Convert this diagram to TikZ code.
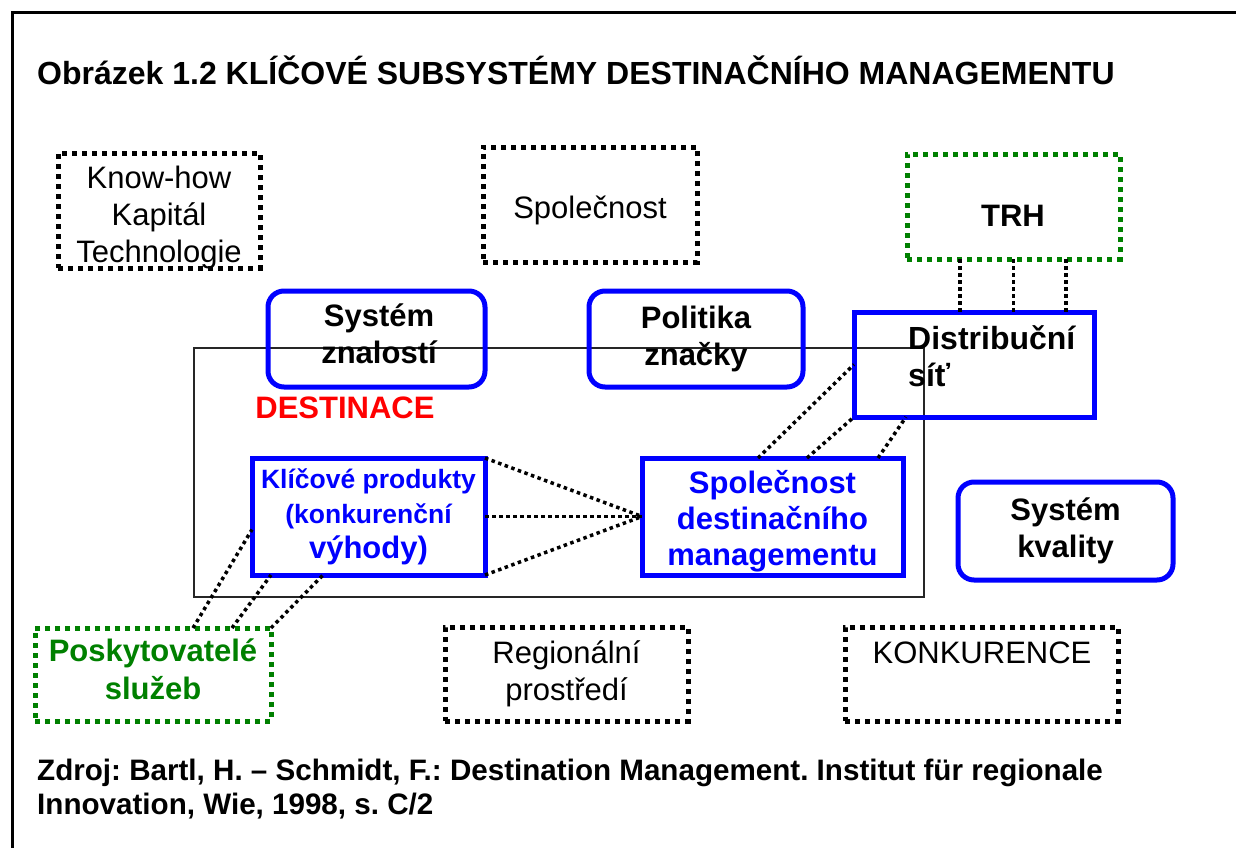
\documentclass[tikz,border=0pt]{standalone}
\usepackage{fontspec}
\setmainfont{Liberation Sans}
\frenchspacing
\definecolor{darkgreen}{RGB}{0,128,0}

\begin{document}
\begin{tikzpicture}[x=1pt, y=-1pt,
    dotbox/.style={draw=black, line width=5pt, dash pattern=on 5pt off 5pt,
        inner sep=0pt, outer sep=0pt, align=center, font=\fontsize{31}{37}\selectfont},
    greenbox/.style={dotbox, draw=darkgreen, text=darkgreen, font=\fontsize{31}{38}\selectfont\bfseries},
    bluebox/.style={draw=blue, line width=5pt, inner sep=0pt, outer sep=0pt,
        align=center, font=\fontsize{31}{37}\selectfont\bfseries},
    roundbox/.style={bluebox, rounded corners=16pt},
    label/.style={inner sep=0pt, align=center, font=\fontsize{31}{37}\selectfont\bfseries},
    link/.style={line width=3.5pt, dash pattern=on 3.5pt off 3.5pt}]

    % Page frame and fixed size
    \useasboundingbox (0,0) rectangle (1236,848);
    \draw[line width=3pt] (12,848) -- (12,13) -- (1236,13);

    % Title and source
    \node[label, anchor=base west, font=\fontsize{32}{38}\selectfont\bfseries] (title) at (37,85)
        {Obrázek 1.2 KLÍČOVÉ SUBSYSTÉMY DESTINAČNÍHO MANAGEMENTU};
    \node[label, anchor=base west, font=\fontsize{29.6}{34}\selectfont\bfseries] (src1) at (37,780)
        {Zdroj: Bartl, H. – Schmidt, F.: Destination Management. Institut für regionale};
    \node[label, anchor=base west, font=\fontsize{29.6}{34}\selectfont\bfseries] (src2) at (37,814)
        {Innovation, Wie, 1998, s. C/2};

    % The destination area
    \node[draw=black!85, line width=1.5pt, minimum width=730, minimum height=249,
        inner sep=0pt, outer sep=0pt] (dest) at (559,472.5) {};
    \node[label, text=red] (desttext) at (345,408) {DESTINACE};

    % Outer environment (dotted)
    \node[dotbox, minimum width=202, minimum height=115] (knowhow) at (159,210.5) {};
    \node[label, font=\fontsize{31}{37}\selectfont] (knowhowtext) at (159,217.5)
        {Know-how\\Kapitál\\Technologie};
    \node[dotbox, minimum width=214, minimum height=115] (spol) at (590,204.5) {};
    \node[label, font=\fontsize{31}{37}\selectfont] (spoltext) at (590,210.5) {Společnost};
    \node[greenbox, minimum width=213, minimum height=105] (trh) at (1013.5,206.5) {};
    \node[label] (trhtext) at (1013,216) {TRH};
    \node[greenbox, minimum width=236, minimum height=93] (posk) at (153,674.5) {};
    \node[label, text=darkgreen, font=\fontsize{31}{38}\selectfont\bfseries] (posktext) at (153,669.5)
        {Poskytovatelé\\služeb};
    \node[dotbox, minimum width=243, minimum height=94] (region) at (566.5,674)
        {Regionální\\prostředí};
    \node[dotbox, minimum width=273, minimum height=94] (konk) at (981.5,674) {};
    \node[label, font=\fontsize{31}{37}\selectfont] (konktext) at (982,653) {KONKURENCE};

    % Subsystems (blue)
    \node[roundbox, minimum width=217, minimum height=96] (znal) at (376.5,339) {};
    \node[label] (znaltext) at (379,334) {Systém\\znalostí};
    \node[roundbox, minimum width=214, minimum height=96] (znacka) at (696,339)
        {Politika\\značky};
    \node[roundbox, minimum width=215, minimum height=98] (kval) at (1065.5,531)
        {Systém\\kvality};
    \node[bluebox, minimum width=240, minimum height=105] (dist) at (974,364.5) {};
    \node[label, anchor=north west, align=left, font=\fontsize{32}{37}\selectfont\bfseries] (disttext)
        at (908,325) {Distribuční\\síť};
    \node[bluebox, text=blue, minimum width=233, minimum height=117,
        font=\fontsize{26.5}{35}\selectfont\bfseries] (prod) at (368.5,516.5)
        {Klíčové produkty\\(konkurenční\\{\fontsize{31}{35}\selectfont výhody)}};
    \node[bluebox, minimum width=261, minimum height=117] (sdm) at (772.5,516.5) {};
    \node[label, text=blue, font=\fontsize{31}{36}\selectfont\bfseries] (sdmtext) at (772.5,521.5)
        {Společnost\\destinačního\\managementu};

    % Dotted links
    \draw[link] ([xshift=-53.5pt]trh.south) -- ([xshift=-53.5pt]trh.south |- dist.north);
    \draw[link] (trh.south) -- (trh.south |- dist.north);
    \draw[link] ([xshift=52.5pt]trh.south) -- ([xshift=52.5pt]trh.south |- dist.north);

    \draw[link] (prod.north east) -- (sdm.west);
    \draw[link] (prod.east) -- (sdm.west);
    \draw[link] (prod.south east) -- (sdm.west);

    \draw[link] ([xshift=-14.5pt]sdm.north) -- (dist.west);
    \draw[link] ([xshift=34.5pt]sdm.north) -- (dist.south west);
    \draw[link] ([xshift=105.5pt]sdm.north) -- ([xshift=52pt]dist.south west);

    \draw[link] ([xshift=40pt]posk.north) -- ([yshift=-13pt]prod.west);
    \draw[link] ([xshift=79pt]posk.north) -- ([xshift=19pt]prod.south west);
    \draw[link] (posk.north east) -- ([xshift=71pt]prod.south west);

\end{tikzpicture}
\end{document}
